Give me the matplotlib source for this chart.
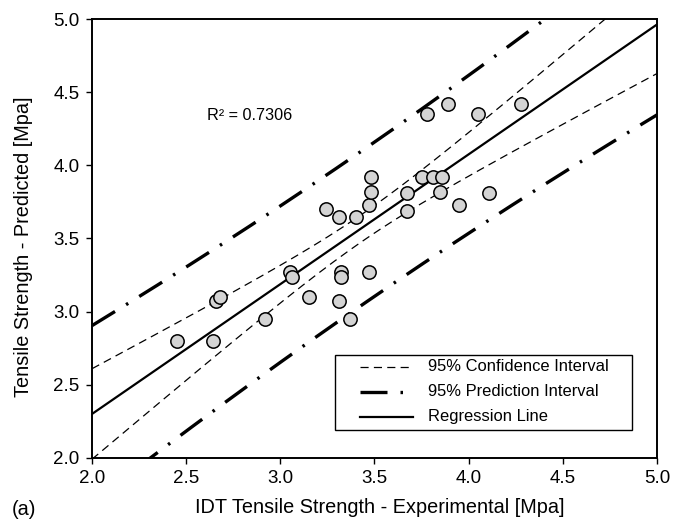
import numpy as np
import matplotlib.pyplot as plt
from matplotlib.patches import Rectangle

plt.rcParams['font.family'] = ['Liberation Sans', 'DejaVu Sans']

# IDT tensile strength: experimental vs. predicted (MPa)
experimental = np.array([2.45, 2.64, 2.66, 2.68, 2.92, 3.05, 3.06, 3.15,
                         3.24, 3.31, 3.31, 3.32, 3.32, 3.37, 3.40, 3.47,
                         3.47, 3.48, 3.48, 3.67, 3.67, 3.75, 3.78, 3.81,
                         3.85, 3.86, 3.89, 3.95, 4.05, 4.11, 4.28])
predicted = np.array([2.80, 2.80, 3.07, 3.10, 2.95, 3.27, 3.24, 3.10,
                      3.70, 3.65, 3.07, 3.27, 3.24, 2.95, 3.65, 3.27,
                      3.73, 3.82, 3.92, 3.81, 3.69, 3.92, 4.35, 3.92,
                      3.82, 3.92, 4.42, 3.73, 4.35, 3.81, 4.42])
r_squared = 0.7306
legend_labels = ['95% Confidence Interval', '95% Prediction Interval',
                 'Regression Line']

# least-squares fit with 95% confidence / prediction bands
n = len(experimental)
slope, intercept = np.polyfit(experimental, predicted, 1)
resid = predicted - (intercept + slope * experimental)
s = np.sqrt(np.sum(resid ** 2) / (n - 2))
t95 = 2.045  # t(0.975, n-2)
xm = experimental.mean()
sxx = np.sum((experimental - xm) ** 2)

xx = np.linspace(2.0, 5.0, 200)
yy = intercept + slope * xx
ci = t95 * s * np.sqrt(1 / n + (xx - xm) ** 2 / sxx)
pi = t95 * s * np.sqrt(1 + 1 / n + (xx - xm) ** 2 / sxx)

fig = plt.figure(figsize=(6.78, 5.21), dpi=100)
ax = fig.add_axes([0.1357, 0.121, 0.8333, 0.8425])

ci_style = dict(color='k', lw=0.9, dashes=(6.5, 4.2))
pi_style = dict(color='k', lw=2.4, dashes=(8.1, 3.9, 0.75, 3.9))
reg_style = dict(color='k', lw=1.6)

ax.plot(xx, yy + ci, **ci_style)
ax.plot(xx, yy - ci, **ci_style)
ax.plot(xx, yy + pi, **pi_style)
ax.plot(xx, yy - pi, **pi_style)
ax.plot(xx, yy, **reg_style)
ax.plot(experimental, predicted, 'o', ms=9.6, mfc='#d4d4d4', mec='k',
        mew=1.1, zorder=5)

ax.text(2.613, 4.31, f'R² = {r_squared:.4f}', fontsize=11.7,
        va='baseline')

ax.set_xlim(2.0, 5.0)
ax.set_ylim(2.0, 5.0)
ticks = np.arange(2.0, 5.01, 0.5)
ax.set_xticks(ticks)
ax.set_yticks(ticks)
ax.set_xticklabels([f'{v:.1f}' for v in ticks])
ax.set_yticklabels([f'{v:.1f}' for v in ticks])
ax.tick_params(direction='out', length=4, width=1, labelsize=13.5, pad=5)
for sp in ax.spines.values():
    sp.set_linewidth(1.4)

ax.set_xlabel('IDT Tensile Strength - Experimental [Mpa]', fontsize=14.3)
ax.set_ylabel('Tensile Strength - Predicted [Mpa]', fontsize=14.3)
ax.xaxis.set_label_coords(0.5097, -0.092)
ax.yaxis.set_label_coords(-0.104, 0.481)
fig.text(0.0177, 0.0115, '(a)', fontsize=14.3, va='baseline')

# legend box, drawn by hand for its wide side margins
ax.add_patch(Rectangle((0.430, 0.0638), 0.526, 0.1708, transform=ax.transAxes,
                       fc='white', ec='k', lw=1.0, zorder=10))
rows = [0.2073, 0.1503, 0.0934]
for y, style, label in zip(rows, [ci_style, pi_style, reg_style],
                           legend_labels):
    ax.plot([0.4743, 0.568], [y, y], transform=ax.transAxes, zorder=11,
            clip_on=False, **style)
    ax.text(0.5947, y, label, transform=ax.transAxes, fontsize=11.9,
            va='center', zorder=11)

fig.savefig('out.png', dpi=100)
